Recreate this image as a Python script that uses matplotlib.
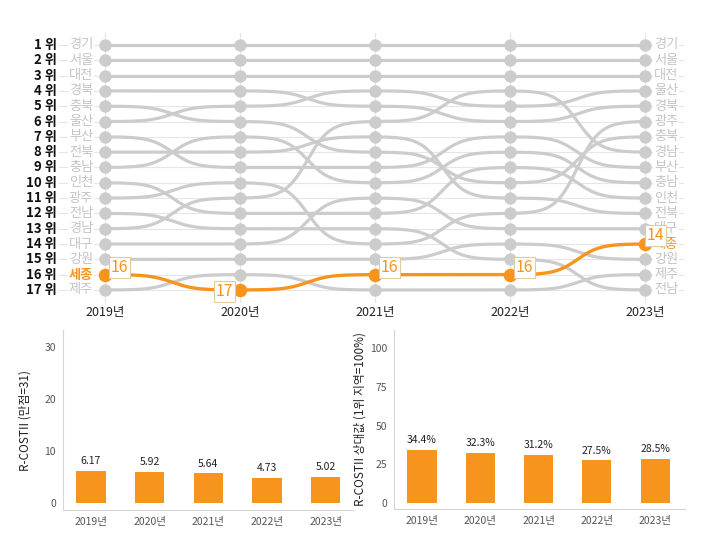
import numpy as np
import matplotlib
matplotlib.use("Agg")
import matplotlib.pyplot as plt

plt.rcParams['font.family'] = ['Noto Sans CJK KR', 'DejaVu Sans']

# ---- data ----
years = ['2019년', '2020년', '2021년', '2022년', '2023년']

order_2019 = ['경기', '서울', '대전', '경북', '충북', '울산', '부산', '전북', '충남',
              '인천', '광주', '전남', '경남', '대구', '강원', '세종', '제주']
order_2020 = ['경기', '서울', '대전', '경북', '울산', '충북', '충남', '전북', '부산',
              '광주', '경남', '인천', '전남', '대구', '강원', '제주', '세종']
order_2021 = ['경기', '서울', '대전', '울산', '경북', '경남', '전북', '충북', '부산',
              '충남', '대구', '인천', '전남', '광주', '강원', '세종', '제주']
order_2022 = ['경기', '서울', '대전', '경남', '울산', '경북', '부산', '충남', '인천',
              '충북', '전북', '광주', '대구', '강원', '전남', '세종', '제주']
order_2023 = ['경기', '서울', '대전', '울산', '경북', '광주', '충북', '경남', '부산',
              '충남', '인천', '전북', '대구', '세종', '강원', '제주', '전남']

highlight = '세종'

score = [6.17, 5.92, 5.64, 4.73, 5.02]          # R-COSTII (만점=31)
relative = [34.4, 32.3, 31.2, 27.5, 28.5]       # 1위 지역 대비 %

orders = [order_2019, order_2020, order_2021, order_2022, order_2023]
regions = order_2019
ranks = {r: [o.index(r) + 1 for o in orders] for r in regions}

GRAY = '#cccccc'
ORANGE = '#f7941d'


def bump(x0, x1, y0, y1, n=80, smooth=6):
    t = np.linspace(-smooth, smooth, n)
    s = 1 / (1 + np.exp(-t))
    s = (s - s[0]) / (s[-1] - s[0])
    return np.linspace(x0, x1, n), y0 + (y1 - y0) * s


def draw_path(ax, rk, **kw):
    xs_all, ys_all = [], []
    for i in range(len(rk) - 1):
        xs, ys = bump(i, i + 1, rk[i], rk[i + 1])
        xs_all.append(xs)
        ys_all.append(ys)
    ax.plot(np.concatenate(xs_all), np.concatenate(ys_all), **kw)


fig = plt.figure(figsize=(7.15, 5.35), dpi=100)

# ---- bump chart ----
ax = fig.add_axes([0.042, 0.4019, 0.937, 0.5514])
ax.set_xlim(-0.556, 4.407)
ax.set_ylim(18.96, -0.306)
ax.axis('off')

n = len(regions)
for r in range(1, n + 1):
    ax.plot([-0.34, 4.28], [r, r], color='#e6e6e6', lw=0.8, zorder=0)
for i in range(len(years)):
    ax.plot([i, i], [0.2, 17.8], color='#e6e6e6', lw=0.8, zorder=0)

for reg in regions:
    if reg == highlight:
        continue
    draw_path(ax, ranks[reg], color=GRAY, lw=2.3, solid_capstyle='round', zorder=2)
    ax.scatter(range(len(years)), ranks[reg], s=80, color=GRAY, zorder=3, linewidths=0)

hr = ranks[highlight]
draw_path(ax, hr, color=ORANGE, lw=2.4, zorder=4)
ax.scatter(range(len(years)), hr, s=95, color=ORANGE, zorder=5, linewidths=0)

for r in range(1, n + 1):
    ax.text(-0.356, r, f'{r} 위', ha='right', va='center', fontsize=9.5,
            fontweight='bold', color='#111111')

for reg in regions:
    is_h = reg == highlight
    ax.text(-0.178, ranks[reg][0], reg, ha='center', va='center', fontsize=9.5,
            color=ORANGE if is_h else '#c4c4c4',
            fontweight='bold' if is_h else 'normal', zorder=6,
            bbox=dict(boxstyle='square,pad=0.05', fc='white', ec='none'))
    ax.text(4.156, ranks[reg][-1], reg, ha='center', va='center', fontsize=9.5,
            color=ORANGE if is_h else '#c4c4c4', zorder=6,
            bbox=dict(boxstyle='square,pad=0.05', fc='white', ec='none'))

for i, y in enumerate(years):
    ax.text(i, 18.45, y, ha='center', va='center', fontsize=9, color='#222222')

for i, r in enumerate(hr):
    if i > 0 and r > hr[i - 1]:
        off, ha = (-5, -1), 'right'
    elif i == len(hr) - 1:
        off, ha = (1, 6), 'left'
    else:
        off, ha = (4, 5), 'left'
    ax.annotate(str(r), (i, r), xytext=off, textcoords='offset points',
                ha=ha, va='center', fontsize=11.5, color=ORANGE, zorder=8,
                bbox=dict(boxstyle='square,pad=0.12', fc='white', ec='#e6c9a0', lw=0.8))

# ---- bar charts ----
def bar_panel(rect, vals, xlim, ylim, yticks, ylabel, fmt, lab_off, lpad):
    bx = fig.add_axes(rect)
    x = np.arange(len(vals))
    bx.bar(x, vals, width=0.5, color=ORANGE)
    for xi, v in zip(x, vals):
        bx.text(xi, v + lab_off, fmt.format(v), ha='center', va='bottom',
                fontsize=7.5, color='#222222')
    bx.set_xlim(*xlim)
    bx.set_ylim(*ylim)
    bx.set_xticks(x)
    bx.set_xticklabels(years, fontsize=7.5, color='#555555')
    bx.set_yticks(yticks)
    bx.set_yticklabels([str(t) for t in yticks], fontsize=7.5, color='#555555')
    bx.tick_params(length=0, pad=5)
    for s in ['top', 'right']:
        bx.spines[s].set_visible(False)
    for s in ['left', 'bottom']:
        bx.spines[s].set_color('#d6d6d6')
        bx.spines[s].set_linewidth(0.8)
    bx.set_ylabel(ylabel, fontsize=8.5, color='#222222', labelpad=lpad)
    return bx


bar_panel([0.0881, 0.0467, 0.4056, 0.3364], score, (-0.477, 4.463), (-1.4, 33.2),
          [0, 10, 20, 30], 'R-COSTII (만점=31)', '{:.2f}', 0.9, 9)
bar_panel([0.551, 0.0486, 0.407, 0.3346], relative, (-0.48, 4.51), (-4, 111.8),
          [0, 25, 50, 75, 100], 'R-COSTII 상대값 (1위 지역=100%)', '{:.1f}%', 3, 2)

fig.savefig('out.png', dpi=100)
